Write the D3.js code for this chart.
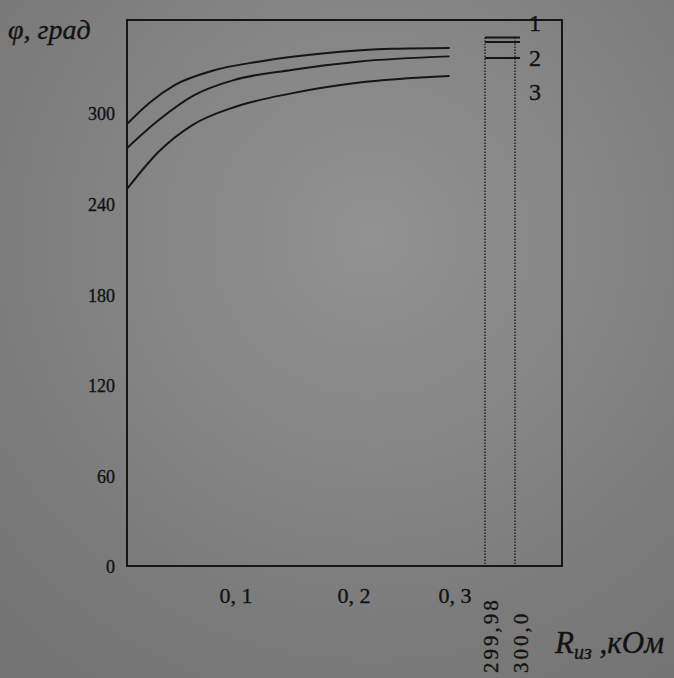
<!DOCTYPE html>
<html>
<head>
<meta charset="utf-8">
<script src="https://cdn.jsdelivr.net/npm/d3@7"></script>
<style>
  html, body { margin: 0; padding: 0; background: #8b8b8b; }
  svg { display: block; }
  text { fill: #121212; stroke: #121212; stroke-width: 0.35px; font-family: "Liberation Serif", "DejaVu Serif", serif; }
</style>
</head>
<body>
<script>
// values
var yTicks = [0, 60, 120, 180, 240, 300];
var xTicks = [0.1, 0.2, 0.3];
var xTickText = ["0, 1", "0, 2", "0, 3"];
var breakTicks = [299.98, 300.0];
var breakTickText = ["299,98", "300,0"];

var r1 = [0.008, 0.027, 0.048, 0.080, 0.119, 0.175, 0.232, 0.281];
var phi1 = [293, 307, 318.5, 328, 334, 339.5, 342.5, 343];
var r2 = [0.008, 0.034, 0.065, 0.099, 0.147, 0.203, 0.281];
var phi2 = [277, 295, 312, 322, 328.5, 334, 337.5];
var r3 = [0.008, 0.034, 0.063, 0.099, 0.147, 0.203, 0.281];
var phi3 = [250, 274, 292, 304, 313, 320, 324.5];

// value at R = 300 kOhm for curves 1..3
var limitPhi = [350, 347, 336.5];
var curveNames = ["1", "2", "3"];

var W = 674, H = 678;
var frame = {left: 127, right: 562, top: 20, bottom: 566};

var svg = d3.select("body").append("svg")
  .attr("width", W)
  .attr("height", H);

// paper-ish background, darker towards the edges
var defs = svg.append("defs");
var grad = defs.append("radialGradient")
  .attr("id", "paper").attr("cx", "55%").attr("cy", "35%").attr("r", "80%");
grad.append("stop").attr("offset", "0%").attr("stop-color", "#929292");
grad.append("stop").attr("offset", "100%").attr("stop-color", "#737373");
svg.append("rect").attr("width", W).attr("height", H).attr("fill", "url(#paper)");

// broken x axis: 0..0.3, then a jump to 299.98..300
var x = d3.scaleLinear()
  .domain([0, 0.3, 299.98, 300])
  .range([118, 472, 485, 515]);

var y = d3.scaleLinear()
  .domain([0, 300])
  .range([566, 113]);

var ink = "#151515";

// frame
svg.append("rect")
  .attr("x", frame.left).attr("y", frame.top)
  .attr("width", frame.right - frame.left)
  .attr("height", frame.bottom - frame.top)
  .attr("fill", "none").attr("stroke", ink).attr("stroke-width", 2);

// dotted verticals at the break
svg.selectAll(".brk")
  .data(breakTicks)
  .enter().append("line")
    .attr("x1", function(d) { return x(d); })
    .attr("x2", function(d) { return x(d); })
    .attr("y1", y(limitPhi[0]))
    .attr("y2", frame.bottom)
    .attr("stroke", ink).attr("stroke-width", 1.3)
    .attr("stroke-dasharray", "1.5,1.5");

// curves
var line = d3.line()
  .x(function(d) { return x(d[0]); })
  .y(function(d) { return y(d[1]); })
  .curve(d3.curveMonotoneX);

[[r1, phi1], [r2, phi2], [r3, phi3]].forEach(function(s) {
  svg.append("path")
    .datum(d3.zip(s[0], s[1]))
    .attr("d", line)
    .attr("fill", "none")
    .attr("stroke", ink)
    .attr("stroke-width", 2);
});

// short marks for R = 300 kOhm
svg.selectAll(".lim")
  .data(limitPhi)
  .enter().append("line")
    .attr("x1", x(breakTicks[0]))
    .attr("x2", x(breakTicks[1]) + 5)
    .attr("y1", function(d) { return y(d); })
    .attr("y2", function(d) { return y(d); })
    .attr("stroke", ink).attr("stroke-width", 2);

// curve numbers
svg.selectAll(".num")
  .data(curveNames)
  .enter().append("text")
    .attr("x", 535)
    .attr("y", function(d, i) { return 23 + i * 34.5; })
    .attr("dy", "0.35em")
    .attr("text-anchor", "middle")
    .style("font-size", "24px")
    .text(function(d) { return d; });

// y tick labels
svg.selectAll(".yt")
  .data(yTicks)
  .enter().append("text")
    .attr("x", 115)
    .attr("y", function(d) { return y(d) + 1; })
    .attr("dy", "0.35em")
    .attr("text-anchor", "end")
    .style("font-size", "18px")
    .text(function(d) { return d; });

// x tick labels
svg.selectAll(".xt")
  .data(xTicks)
  .enter().append("text")
    .attr("x", function(d, i) { return x(d) + (i == xTicks.length - 1 ? -17 : 0); })
    .attr("y", 603)
    .attr("text-anchor", "middle")
    .style("font-size", "22px")
    .text(function(d, i) { return xTickText[i]; });

// rotated labels under the break
svg.selectAll(".bt")
  .data(breakTicks)
  .enter().append("text")
    .attr("transform", function(d) { return "translate(" + (x(d) + 13) + ",673) rotate(-90)"; })
    .attr("text-anchor", "start")
    .style("font-size", "21px")
    .style("letter-spacing", "3px")
    .text(function(d, i) { return breakTickText[i]; });

// axis titles
var yTitle = svg.append("text")
  .attr("x", 8).attr("y", 39)
  .style("font-size", "28px")
  .style("font-style", "italic");
yTitle.append("tspan").text("φ, град");

var xTitle = svg.append("text")
  .attr("x", 555).attr("y", 653)
  .style("font-size", "31px")
  .style("font-style", "italic");
xTitle.append("tspan").text("R");
xTitle.append("tspan").attr("dy", 6).style("font-size", "20px").text("из");
xTitle.append("tspan").attr("dy", -6).text(" ,кОм");
</script>
</body>
</html>
